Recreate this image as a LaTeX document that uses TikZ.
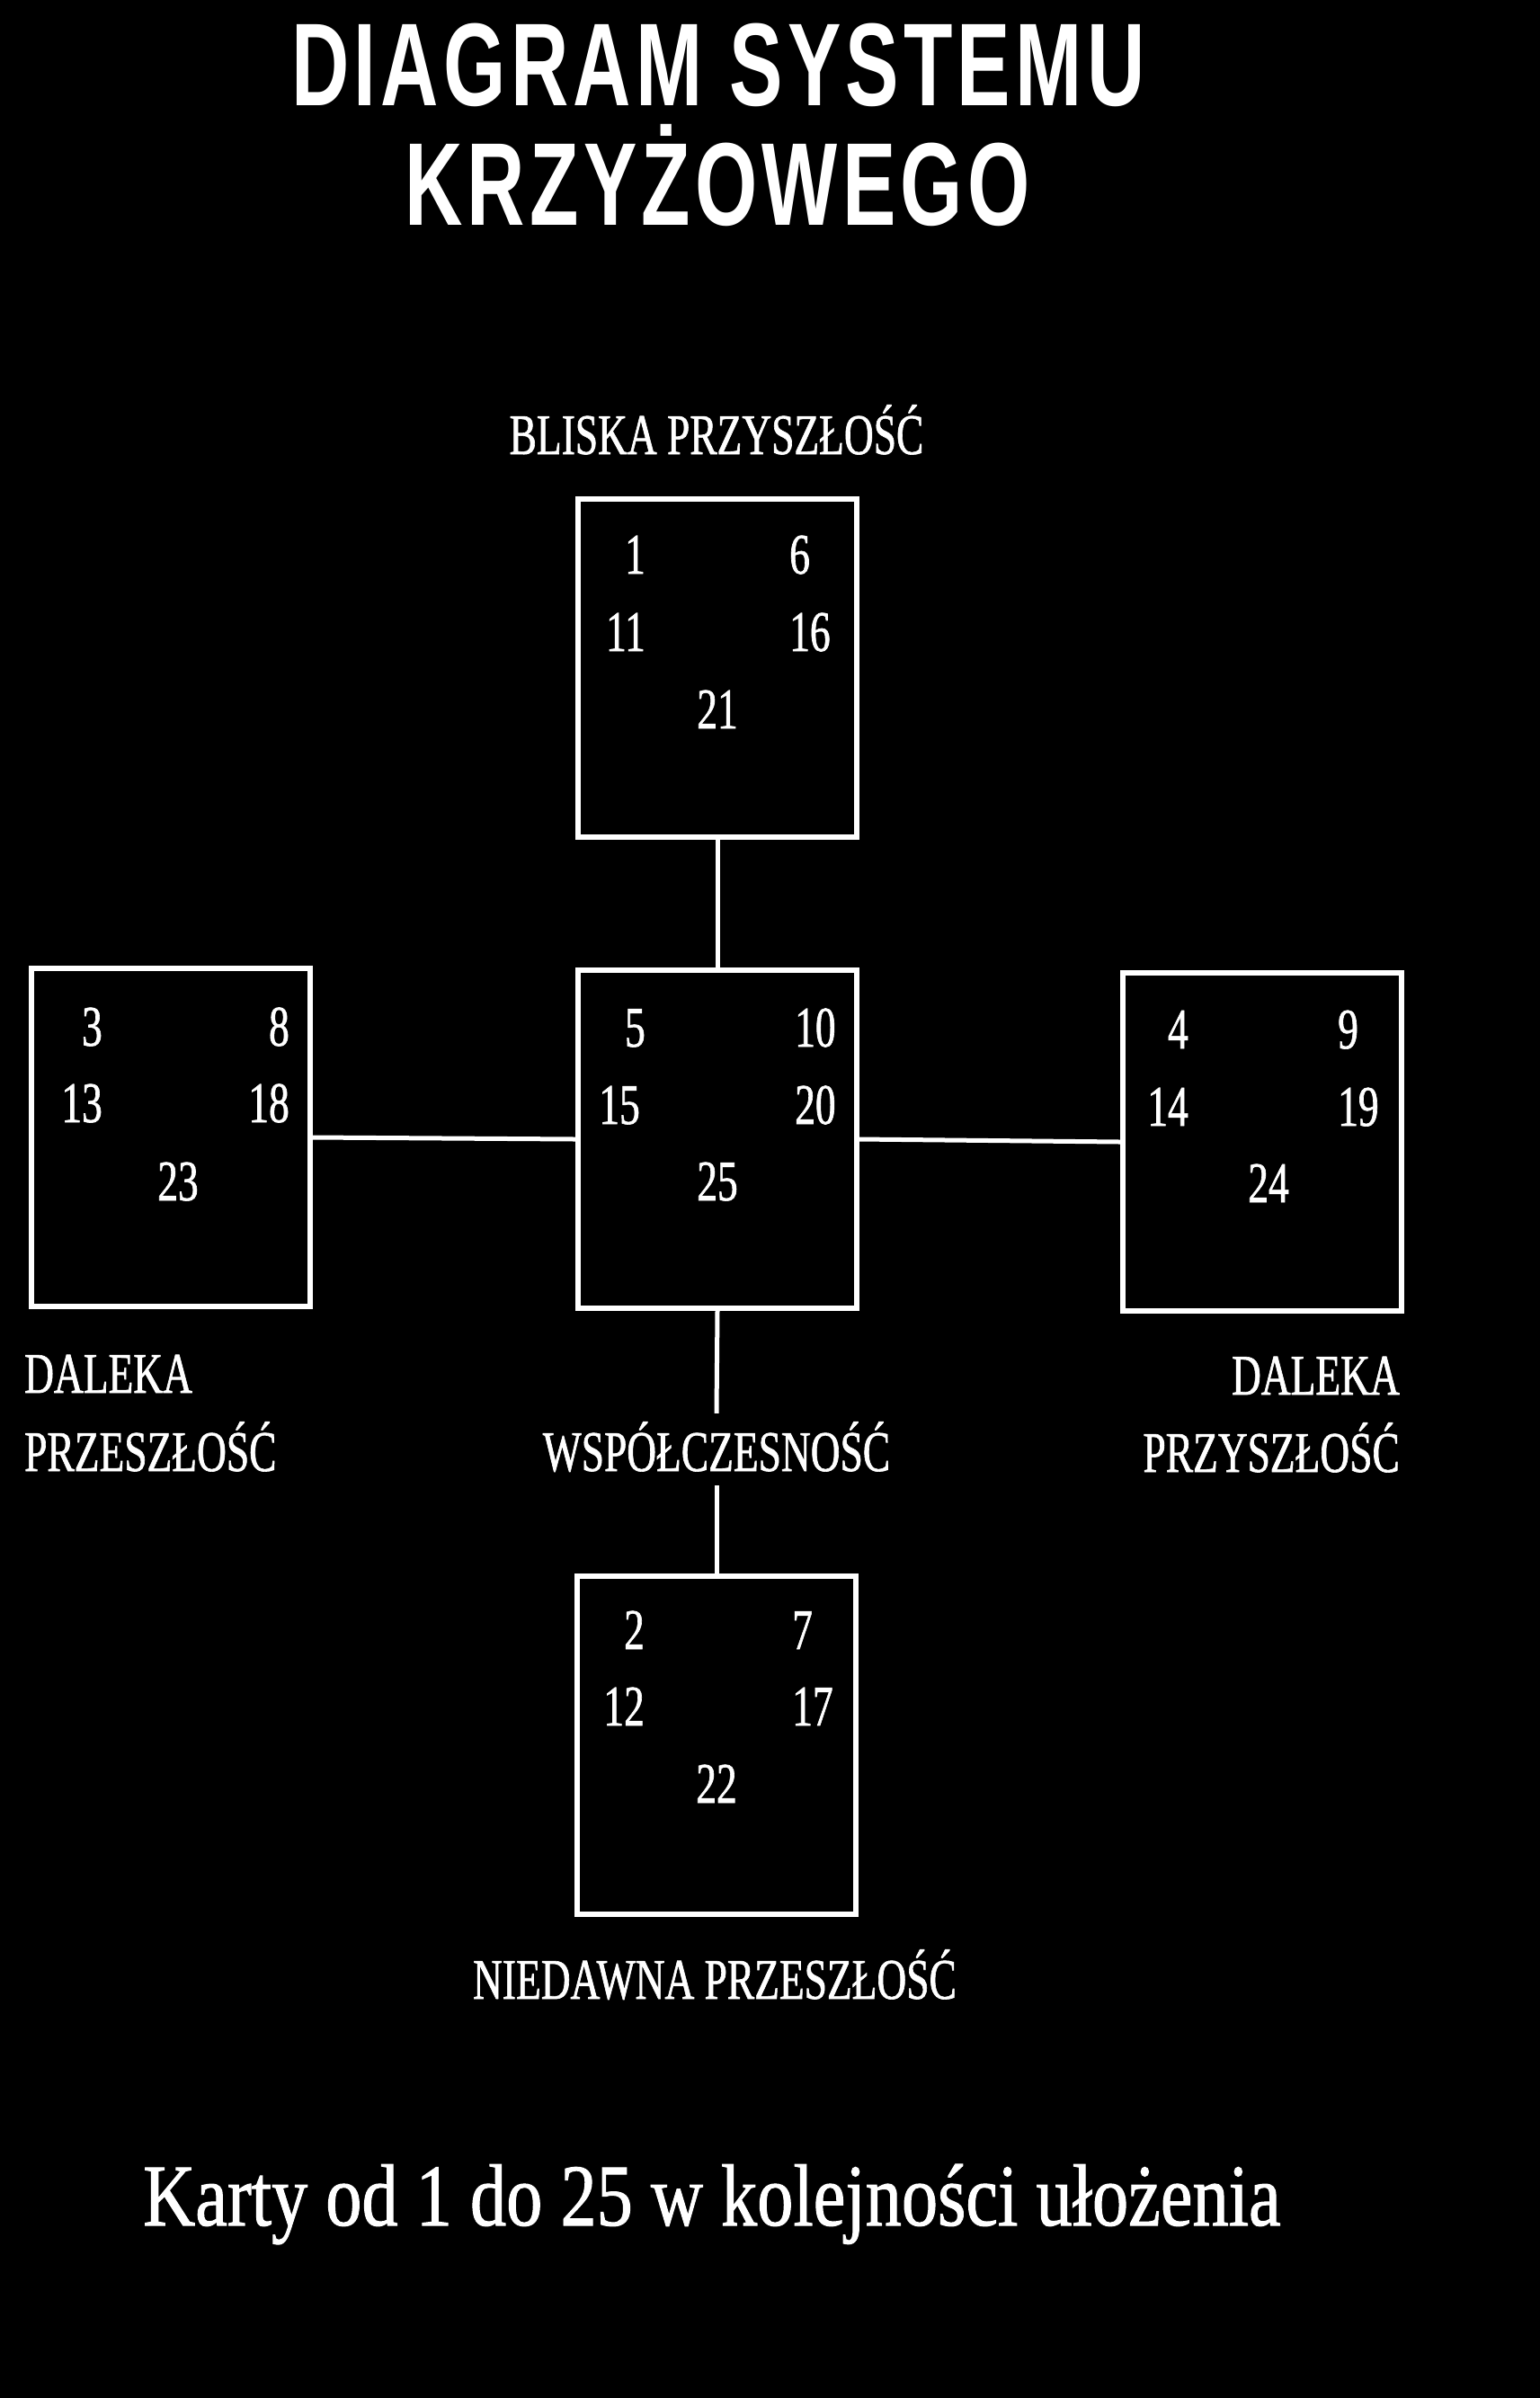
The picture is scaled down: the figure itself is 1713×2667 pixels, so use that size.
\documentclass[tikz,border=0pt]{standalone}
\usepackage{fontspec}
\usepackage{tikz}

\newfontfamily\headfont[FakeStretch=0.68,LetterSpace=4]{Liberation Sans}
\newfontfamily\cardfont[FakeStretch=0.71,FakeBold=1]{Liberation Serif}
\newfontfamily\notefont[FakeStretch=0.82,FakeBold=1]{Liberation Serif}

\begin{document}
\begin{tikzpicture}[x=1pt, y=-1pt,
    cardBox/.style={draw=white, line width=6pt, minimum width=310pt, minimum height=376pt, inner sep=0pt},
    cardNum/.style={text=white, inner sep=0pt, font=\cardfont\fontsize{64}{70}\selectfont},
    timeLabel/.style={text=white, inner sep=0pt, font=\cardfont\fontsize{64}{70}\selectfont},
    titleText/.style={text=white, inner sep=0pt, font=\headfont\bfseries\fontsize{131}{140}\selectfont},
    link/.style={draw=white, line width=5pt}]

                \fill[black] (0,0) rectangle (1713,2667);

                \node[titleText, anchor=base] (titleTop) at (799,117) {DIAGRAM SYSTEMU};
                \node[titleText, anchor=base] (titleBottom) at (798,250) {KRZYŻOWEGO};

                % the five places of the cross
                \node[cardBox] (near) at (798,743) {};
                \node[cardBox] (now) at (798,1267) {};
                \node[cardBox] (pastFar) at (190,1265) {};
                \node[cardBox] (futureFar) at (1404,1270) {};
                \node[cardBox] (pastNear) at (797,1941) {};

                \node[timeLabel, anchor=base] (nearLabel) at (797,505) {BLISKA PRZYSZŁOŚĆ};
                \node[timeLabel, anchor=base west] (pastFarTop) at (27,1549) {DALEKA};
                \node[timeLabel, anchor=base west] (pastFarBottom) at (27,1636) {PRZESZŁOŚĆ};
                \node[timeLabel, anchor=base east] (futureFarTop) at (1557,1551) {DALEKA};
                \node[timeLabel, anchor=base east] (futureFarBottom) at (1557,1637) {PRZYSZŁOŚĆ};
                \node[timeLabel, anchor=base, text height=64pt, text depth=16pt] (nowLabel) at (797,1636) {WSPÓŁCZESNOŚĆ};
                \node[timeLabel, anchor=base] (pastNearLabel) at (795,2223) {NIEDAWNA PRZESZŁOŚĆ};

                \draw[link] (near.south) -- (now.north);
                \draw[link] (pastFar.east) -- (now.west);
                \draw[link] (now.east) -- (futureFar.west);
                \draw[link] (now.south) -- (nowLabel.north);
                \draw[link] (nowLabel.south) -- (pastNear.north);

                % card numbers
                \node[cardNum, anchor=base east] (n1) at ([shift={(78,86)}]near.north west) {1};
                \node[cardNum, anchor=base west] (n6) at ([shift={(238,86)}]near.north west) {6};
                \node[cardNum, anchor=base east] (n11) at ([shift={(78,172)}]near.north west) {11};
                \node[cardNum, anchor=base west] (n16) at ([shift={(238,172)}]near.north west) {16};
                \node[cardNum, anchor=base] (n21) at ([shift={(0,258)}]near.north) {21};

                \node[cardNum, anchor=base east] (n2) at ([shift={(78,84)}]pastNear.north west) {2};
                \node[cardNum, anchor=base west] (n7) at ([shift={(242,84)}]pastNear.north west) {7};
                \node[cardNum, anchor=base east] (n12) at ([shift={(78,169)}]pastNear.north west) {12};
                \node[cardNum, anchor=base west] (n17) at ([shift={(242,169)}]pastNear.north west) {17};
                \node[cardNum, anchor=base] (n22) at ([shift={(0,255)}]pastNear.north) {22};

                \node[cardNum, anchor=base east] (n3) at ([shift={(82,89)}]pastFar.north west) {3};
                \node[cardNum, anchor=base east] (n8) at ([shift={(290,89)}]pastFar.north west) {8};
                \node[cardNum, anchor=base east] (n13) at ([shift={(82,174)}]pastFar.north west) {13};
                \node[cardNum, anchor=base east] (n18) at ([shift={(290,174)}]pastFar.north west) {18};
                \node[cardNum, anchor=base] (n23) at ([shift={(8,261)}]pastFar.north) {23};

                \node[cardNum, anchor=base east] (n4) at ([shift={(76,87)}]futureFar.north west) {4};
                \node[cardNum, anchor=base west] (n9) at ([shift={(242,87)}]futureFar.north west) {9};
                \node[cardNum, anchor=base east] (n14) at ([shift={(76,173)}]futureFar.north west) {14};
                \node[cardNum, anchor=base west] (n19) at ([shift={(242,173)}]futureFar.north west) {19};
                \node[cardNum, anchor=base] (n24) at ([shift={(7,258)}]futureFar.north) {24};

                \node[cardNum, anchor=base east] (n5) at ([shift={(78,88)}]now.north west) {5};
                \node[cardNum, anchor=base west] (n10) at ([shift={(244,88)}]now.north west) {10};
                \node[cardNum, anchor=base east] (n15) at ([shift={(72,174)}]now.north west) {15};
                \node[cardNum, anchor=base west] (n20) at ([shift={(244,174)}]now.north west) {20};
                \node[cardNum, anchor=base] (n25) at ([shift={(0,259)}]now.north) {25};

                \node[text=white, inner sep=0pt, anchor=base, font=\notefont\fontsize{98}{110}\selectfont] (caption) at (792,2475) {Karty od 1 do 25 w kolejności ułożenia};
\end{tikzpicture}
\end{document}
